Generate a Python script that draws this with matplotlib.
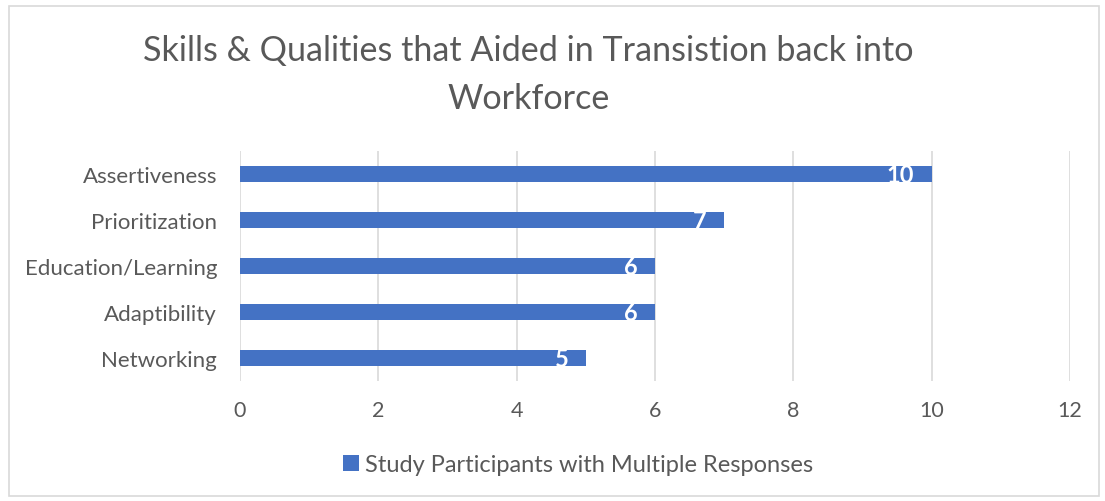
import matplotlib.pyplot as plt
from matplotlib.patches import Rectangle

categories = ["Networking", "Adaptibility", "Education/Learning", "Prioritization", "Assertiveness"]
values = [5, 6, 6, 7, 10]
series_name = "Study Participants with Multiple Responses"
title = "Skills & Qualities that Aided in Transistion back into\nWorkforce"

plt.rcParams['font.family'] = ['Lato', 'DejaVu Sans']
text_gray = '#595959'
bar_blue = '#4472C4'

fig = plt.figure(figsize=(11.05, 5.02), dpi=100)
ax = fig.add_axes([0.2172, 0.239, 0.7511, 0.458])

bars = ax.barh(categories, values, height=0.35, color=bar_blue, label=series_name, zorder=3)
for b, v in zip(bars, values):
    ax.text(b.get_width() - 0.25, b.get_y() + b.get_height() / 2, str(v),
            ha='right', va='center', color='white', fontsize=17, fontweight='bold', zorder=4)

ax.set_xlim(0, 12)
ax.set_ylim(-0.5, len(categories) - 0.5)
ax.set_xticks(range(0, 13, 2))
ax.grid(axis='x', color='#d9d9d9', linewidth=1.2, zorder=0)
for s in ax.spines.values():
    s.set_visible(False)
ax.tick_params(length=0, colors=text_gray)
ax.tick_params(axis='y', pad=16.5, labelsize=16)
ax.tick_params(axis='x', pad=14, labelsize=15.5)

fig.text(0.478, 0.850, title, ha='center', va='center', fontsize=24.6, color=text_gray,
         linespacing=1.62)

fig.legend(loc='center', bbox_to_anchor=(0.523, 0.072), frameon=False, fontsize=17,
           labelcolor=text_gray, handlelength=0.7, handleheight=0.7, handletextpad=0.25)

fig.patches.append(Rectangle((9 / 1105, 5 / 502), 1090 / 1105, 490 / 502, transform=fig.transFigure,
                             fill=False, edgecolor='#d9d9d9', linewidth=1.2))

fig.savefig('out.png', dpi=100)
